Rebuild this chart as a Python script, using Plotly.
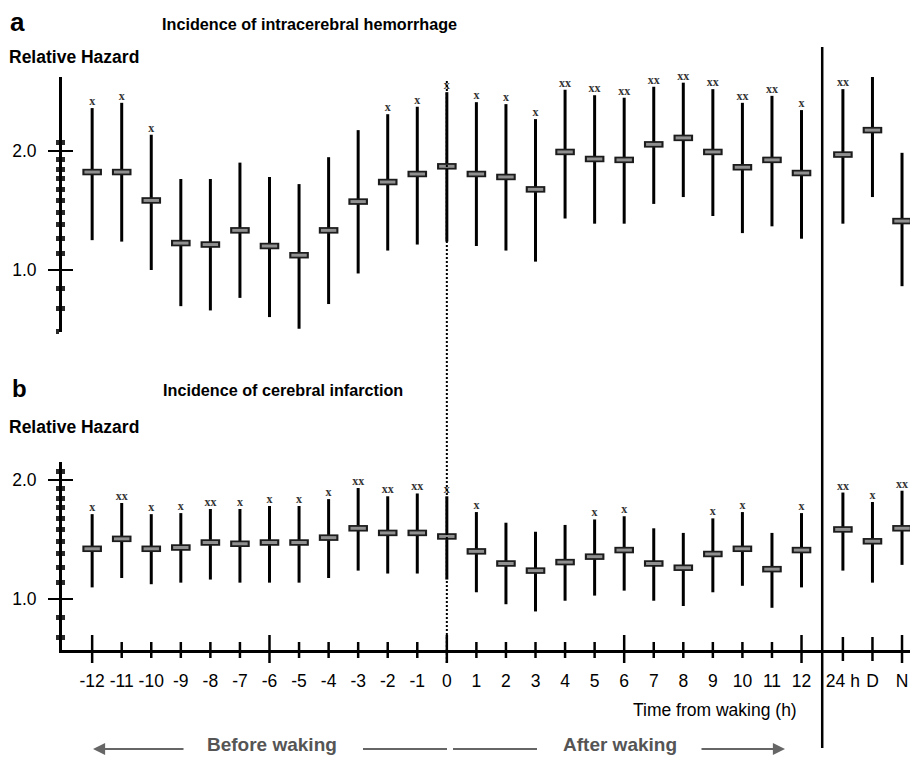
import math
import plotly.graph_objects as go

# ---------------- data ----------------
categories = ["-12", "-11", "-10", "-9", "-8", "-7", "-6", "-5", "-4", "-3", "-2", "-1", "0",
              "1", "2", "3", "4", "5", "6", "7", "8", "9", "10", "11", "12", "24 h", "D", "N"]
x_pos = [-12, -11, -10, -9, -8, -7, -6, -5, -4, -3, -2, -1, 0,
         1, 2, 3, 4, 5, 6, 7, 8, 9, 10, 11, 12, 13.4, 14.4, 15.4]

# (a) intracerebral hemorrhage: relative hazard and 95% CI
ich_mean = [1.77, 1.77, 1.50, 1.17, 1.16, 1.26, 1.15, 1.09, 1.26, 1.49, 1.67, 1.75, 1.83,
            1.75, 1.72, 1.60, 1.99, 1.91, 1.90, 2.08, 2.16, 1.99, 1.82, 1.90, 1.76, 1.96, 2.26, 1.33]
ich_low = [1.19, 1.18, 1.00, 0.81, 0.79, 0.85, 0.76, 0.71, 0.82, 0.98, 1.12, 1.16, 1.18,
           1.15, 1.12, 1.05, 1.35, 1.31, 1.31, 1.47, 1.53, 1.37, 1.24, 1.29, 1.20, 1.31, 1.53, 0.91]
ich_high = [2.57, 2.65, 2.20, 1.70, 1.70, 1.87, 1.72, 1.65, 1.93, 2.26, 2.48, 2.59, 2.82,
            2.66, 2.63, 2.41, 2.86, 2.77, 2.73, 2.91, 2.98, 2.87, 2.65, 2.76, 2.54, 2.87, 3.34, 1.98]
ich_sig = ["x", "x", "x", "", "", "", "", "", "", "", "x", "x", "x",
           "x", "x", "x", "xx", "xx", "xx", "xx", "xx", "xx", "xx", "xx", "x", "xx", "xx", ""]

# (b) cerebral infarction
ci_mean = [1.34, 1.42, 1.34, 1.35, 1.39, 1.38, 1.39, 1.39, 1.43, 1.51, 1.47, 1.47, 1.44,
           1.32, 1.23, 1.18, 1.24, 1.28, 1.33, 1.23, 1.20, 1.30, 1.34, 1.19, 1.33, 1.50, 1.40, 1.51]
ci_low = [1.07, 1.13, 1.09, 1.10, 1.12, 1.10, 1.10, 1.10, 1.13, 1.18, 1.16, 1.16, 1.12,
          1.04, 0.97, 0.93, 0.99, 1.02, 1.05, 0.99, 0.96, 1.04, 1.08, 0.95, 1.07, 1.18, 1.10, 1.22]
ci_high = [1.64, 1.75, 1.64, 1.65, 1.69, 1.69, 1.72, 1.72, 1.79, 1.91, 1.82, 1.85, 1.82,
           1.66, 1.56, 1.48, 1.54, 1.59, 1.62, 1.51, 1.47, 1.60, 1.66, 1.47, 1.65, 1.86, 1.76, 1.88]
ci_sig = ["x", "xx", "x", "x", "xx", "x", "x", "x", "x", "xx", "xx", "xx", "x",
          "x", "", "", "", "x", "x", "", "", "x", "x", "", "x", "xx", "x", "xx"]

y_major = [1.0, 2.0]
y_major_text = ["1.0", "2.0"]
y_minor_a = [0.7, 0.8, 0.9, 1.1, 1.2, 1.3, 1.4, 1.5, 1.6, 1.7, 1.8, 1.9, 2.1]
y_minor_b = [0.8, 0.9, 1.1, 1.2, 1.3, 1.4, 1.5, 1.6, 1.7, 1.8, 1.9, 2.1]
REF_LEVEL = 1.0
WAKE_X = 0
SEPARATOR_X = 12.7
LONG_TICKS = {"-12", "-6", "0", "6", "12", "N"}
MID_TICKS = {"24 h", "D"}

# ---------------- geometry helpers (pixels -> paper) ----------------
W, H = 910, 757
ML = 62
FONT = "Liberation Sans"


def px(p):
    return (p - ML) / (W - ML)


def py(p):
    return 1 - p / H


DEC = 395.0  # pixels per decade (log axis)
# panel a: ref line at 270px, axis 77..332 px ; panel b: ref line 599px, axis 462..650 px
A_TOP, A_BOT, A_REF = 77, 332, 270
B_TOP, B_BOT, B_REF = 462, 650, 599
range_a = [(A_REF - A_BOT) / DEC, (A_REF - A_TOP) / DEC]
range_b = [(B_REF - B_BOT) / DEC, (B_REF - B_TOP) / DEC]

fig = go.Figure()


def add_panel(yax, mean, low, high, sig):
    cx, cy = [], []
    for x, lo, hi in zip(x_pos, low, high):
        cx += [x, x, None]
        cy += [lo, hi, None]
    fig.add_trace(go.Scatter(x=cx, y=cy, mode="lines", yaxis=yax, xaxis="x",
                             line=dict(color="black", width=3), cliponaxis=False,
                             hoverinfo="skip"))
    fig.add_trace(go.Scatter(x=x_pos, y=mean, mode="markers", yaxis=yax, xaxis="x",
                             marker=dict(symbol="line-ew", size=14.0,
                                         line=dict(color="#1c1c1c", width=6.5)),
                             cliponaxis=False))
    fig.add_trace(go.Scatter(x=x_pos, y=mean, mode="markers", yaxis=yax, xaxis="x",
                             marker=dict(symbol="line-ew", size=11.0,
                                         line=dict(color="#909090", width=3)),
                             cliponaxis=False))
    fig.add_trace(go.Scatter(x=x_pos, y=high, mode="text", yaxis=yax, xaxis="x",
                             text=sig, textposition="top center",
                             textfont=dict(family="Liberation Serif", size=12,
                                           color="#333333", weight="bold"),
                             cliponaxis=False))


add_panel("y", ich_mean, ich_low, ich_high, ich_sig)
add_panel("y2", ci_mean, ci_low, ci_high, ci_sig)
# empty traces so the overlay axes are drawn
fig.add_trace(go.Scatter(x=[], y=[], xaxis="x", yaxis="y3"))
fig.add_trace(go.Scatter(x=[], y=[], xaxis="x", yaxis="y4"))


def yaxis_def(rng, dom, minor_vals, outside=True, labels=True):
    d = dict(type="log", range=rng, domain=dom, anchor="x",
             showgrid=False, zeroline=False,
             tickvals=y_major, ticktext=y_major_text,
             ticks="outside" if outside else "inside", ticklen=11, tickwidth=2,
             tickcolor="black",
             minor=dict(tickvals=minor_vals, ticks="outside" if outside else "inside",
                        ticklen=3, tickwidth=5, tickcolor="#2a2a2a"),
             showticklabels=labels,
             tickfont=dict(family=FONT, size=17.5, color="black"))
    if labels:
        d.update(showline=True, linecolor="black", linewidth=3, ticklabelstandoff=8)
    else:
        d.update(showline=False)
    return d


dom_a = [py(A_BOT), py(A_TOP)]
dom_b = [py(B_BOT), py(B_TOP)]

fig.update_layout(
    width=W, height=H,
    margin=dict(l=ML, r=0, t=0, b=0),
    paper_bgcolor="white", plot_bgcolor="white",
    showlegend=False,
    xaxis=dict(domain=[0, 1], range=[-13.02, 15.67], anchor="y2",
               showline=True, linecolor="black", linewidth=2.5,
               showgrid=False, zeroline=False, ticks="",
               tickvals=x_pos, ticktext=categories, ticklabelstandoff=13,
               tickfont=dict(family=FONT, size=17.5, color="black")),
    yaxis=yaxis_def(range_a, dom_a, y_minor_a),
    yaxis2=yaxis_def(range_b, dom_b, y_minor_b),
    yaxis3=dict(yaxis_def(range_a, dom_a, y_minor_a, outside=False, labels=False),
                overlaying="y", side="left"),
    yaxis4=dict(yaxis_def(range_b, dom_b, y_minor_b, outside=False, labels=False),
                overlaying="y2", side="left"),
)

shapes = []
# reference (relative hazard = 1) dashed lines
for yref in ("y", "y2"):
    shapes.append(dict(type="line", xref="paper", x0=0, x1=1, yref=yref,
                       y0=math.log10(REF_LEVEL), y1=math.log10(REF_LEVEL),
                       line=dict(color="black", width=2, dash="5px,3px")))
# waking time dotted line
shapes.append(dict(type="line", xref="x", x0=WAKE_X, x1=WAKE_X, yref="paper",
                   y0=py(663), y1=py(80), line=dict(color="black", width=2, dash="2px,2px")))
# separator between hourly and summary columns
shapes.append(dict(type="line", xref="x", x0=SEPARATOR_X, x1=SEPARATOR_X, yref="paper",
                   y0=py(748), y1=py(47), line=dict(color="black", width=2.5)))
# x-axis tick marks crossing the axis
for cat, x in zip(categories, x_pos):
    if cat in LONG_TICKS:
        up, dn = 15, 13
    elif cat in MID_TICKS:
        up, dn = 13, 11
    else:
        up, dn = 8, 8
    shapes.append(dict(type="line", xref="x", x0=x, x1=x, yref="paper",
                       y0=py(B_BOT + dn), y1=py(B_BOT - up),
                       line=dict(color="black", width=2.5)))
# plain connector lines of the before/after banner
for a, b in ((363, 447), (453, 537)):
    shapes.append(dict(type="line", xref="paper", yref="paper", x0=px(a), x1=px(b),
                       y0=py(749), y1=py(749), line=dict(color="#666666", width=2)))
fig.update_layout(shapes=shapes)

ann = []


def text(s, x, y, size, bold=False, color="black", family=FONT):
    ann.append(dict(text=f"<b>{s}</b>" if bold else s, x=px(x), y=py(y), xref="paper", yref="paper",
                    xanchor="left", yanchor="middle", showarrow=False,
                    font=dict(family=family, size=size, color=color)))


text("a", 8, 22.5, 26, bold=True)
text("Incidence of intracerebral hemorrhage", 160, 23.5, 16.2, bold=True)
text("Relative Hazard", 7, 56.5, 17.5, bold=True)
text("b", 10, 388.5, 24, bold=True)
text("Incidence of cerebral infarction", 161, 390, 16.2, bold=True)
text("Relative Hazard", 7, 426.5, 17.5, bold=True)
text("Time from waking (h)", 631, 710, 17.5)
text("Before waking", 205, 744.5, 19, bold=True, color="#555555")
text("After waking", 561, 744.5, 19, bold=True, color="#555555")

# arrows
for tip, tail in ((93, 185), (785, 700)):
    ann.append(dict(text="", x=px(tip), y=py(749), xref="paper", yref="paper",
                    ax=tail - tip, ay=0, showarrow=True, arrowhead=2, arrowsize=1.1,
                    arrowwidth=2.2, arrowcolor="#666666", standoff=0))
fig.update_layout(annotations=ann)

fig.write_html("out.html")
